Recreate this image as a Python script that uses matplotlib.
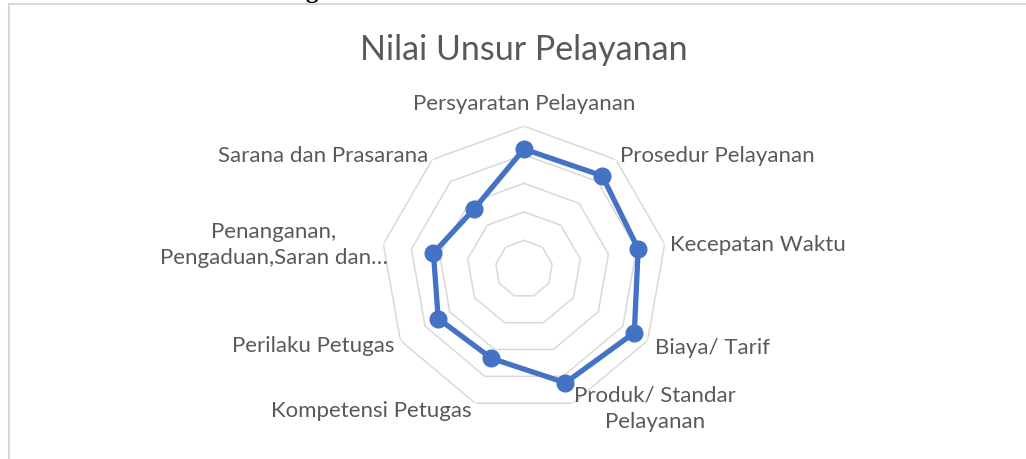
"""Radar chart of service element scores."""

import matplotlib.pyplot as plt
import numpy as np
from matplotlib.patches import Rectangle

categories = [
    "Persyaratan Pelayanan",
    "Prosedur Pelayanan",
    "Kecepatan Waktu",
    "Biaya/ Tarif",
    "Produk/ Standar\nPelayanan",
    "Kompetensi Petugas",
    "Perilaku Petugas",
    "Penanganan,\nPengaduan,Saran dan…",
    "Sarana dan Prasarana",
]
scores = [4.20, 4.26, 4.06, 4.46, 4.24, 3.33, 3.47, 3.22, 2.73]
ring_levels = [1, 2, 3, 4, 5]

W, H = 1026, 460
TEXT = "#595959"
GRID = "#D9D9D9"
BLUE = "#4472C4"

plt.rcParams["font.family"] = ["Lato", "DejaVu Sans"]

fig = plt.figure(figsize=(W / 100, H / 100), dpi=100)


def fx(x):
    return x / W


def fy(y):
    return 1 - y / H


# chart area border (only top and left edges fall inside the image)
fig.patches.append(Rectangle((fx(9), fy(1000)), 2.0, fy(5) - fy(1000),
                             transform=fig.transFigure, fill=False,
                             edgecolor=GRID, linewidth=1.5))

# tail of the caption line sitting above the chart
fig.text(fx(312), fy(-2), "g", ha="center", va="baseline", fontsize=18,
         fontweight="bold", family="Liberation Serif", color="black")

cx, cy, R = 524, 270, 142.8
ax = fig.add_axes([fx(cx - R), fy(cy + R), 2 * R / W, 2 * R / H], projection="polar")
ax.set_theta_zero_location("N")
ax.set_theta_direction(-1)
ax.set_ylim(0, max(ring_levels))
ax.grid(False)
ax.set_xticks([])
ax.set_yticks([])
ax.spines["polar"].set_visible(False)
ax.patch.set_alpha(0)

n = len(categories)
angles = np.linspace(0, 2 * np.pi, n, endpoint=False)
closed = np.append(angles, angles[0])

for lvl in ring_levels:
    ax.plot(closed, [lvl] * (n + 1), color=GRID, lw=1.1, zorder=1)

vals = np.append(scores, scores[0])
ax.plot(closed, vals, color=BLUE, lw=3.8, zorder=3, solid_joinstyle="round")
ax.plot(angles, scores, "o", color=BLUE, ms=12, zorder=4)

# category labels
label_pos = [
    (524, 104, "center"),
    (620, 156, "left"),
    (670, 245, "left"),
    (655, 348, "left"),
    (655, 409, "center"),
    (472, 411, "right"),
    (394, 346, "right"),
    (274, 245, "center"),
    (428, 156, "right"),
]
for name, (x, y, ha) in zip(categories, label_pos):
    fig.text(fx(x), fy(y), name, ha=ha, va="center", fontsize=16,
             color=TEXT, linespacing=1.4, multialignment="center")

fig.text(fx(524), fy(50), "Nilai Unsur Pelayanan", ha="center", va="center",
         fontsize=24.5, color=TEXT)

fig.savefig("out.png", dpi=100)
